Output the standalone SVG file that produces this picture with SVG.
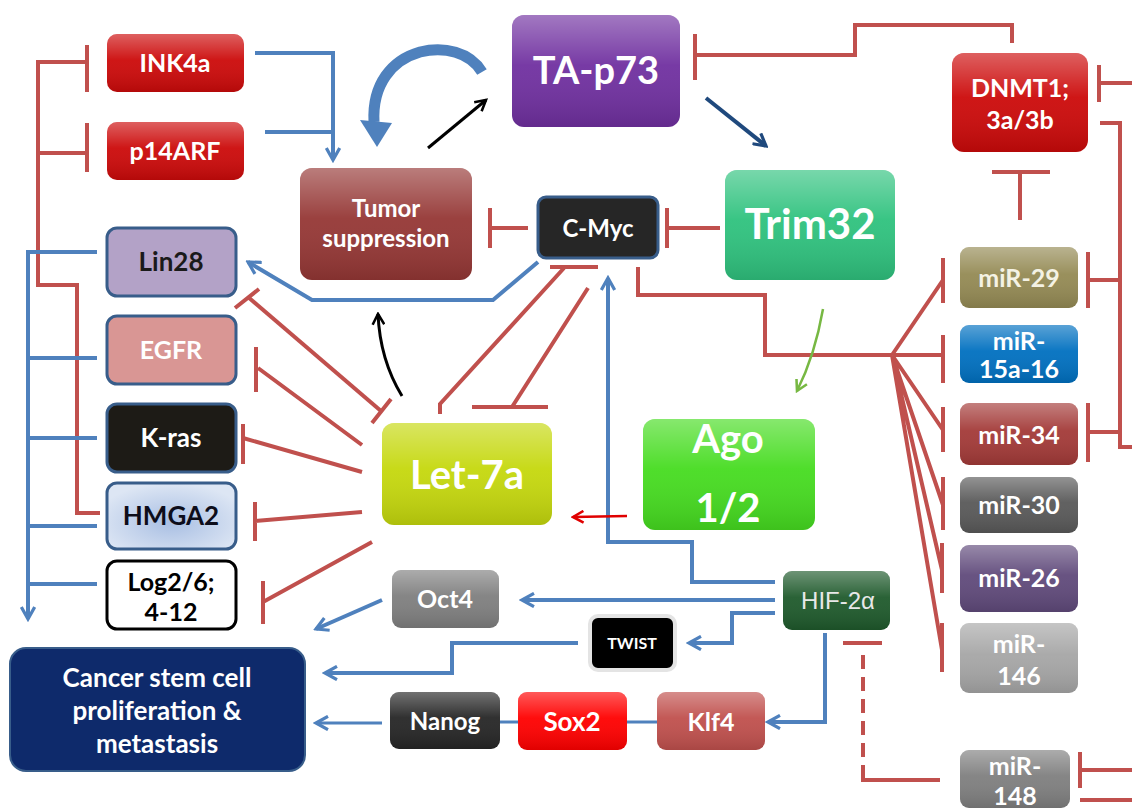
<svg xmlns="http://www.w3.org/2000/svg" width="1132" height="810" viewBox="0 0 1132 810">
<style>
.t{font-family:Lato,"Open Sans","Liberation Sans",sans-serif;font-weight:bold;text-anchor:middle}
.w{fill:#ffffff}
.r{stroke:#c0504d;stroke-width:4;fill:none}
.b{stroke:#4f81bd;stroke-width:4;fill:none}
.gl{fill:url(#gloss)}
</style>
<defs>
<linearGradient id="gloss" x1="0" y1="0" x2="0" y2="1">
<stop offset="0" stop-color="#fff" stop-opacity="0.35"/>
<stop offset="0.45" stop-color="#fff" stop-opacity="0.05"/>
<stop offset="1" stop-color="#000" stop-opacity="0.12"/>
</linearGradient>
<radialGradient id="hmga" cx="0.5" cy="0.6" r="0.6">
<stop offset="0" stop-color="#a9bfe3"/>
<stop offset="1" stop-color="#dde6f4"/>
</radialGradient>
<marker id="ab" viewBox="0 0 12 12" refX="10" refY="6" markerWidth="16" markerHeight="16" markerUnits="userSpaceOnUse" orient="auto"><path d="M1,1 L10,6 L1,11" fill="none" stroke="#4f81bd" stroke-width="2.4"/></marker>
<marker id="ak" viewBox="0 0 12 12" refX="10" refY="6" markerWidth="14" markerHeight="14" markerUnits="userSpaceOnUse" orient="auto"><path d="M1,1 L10,6 L1,11" fill="none" stroke="#000" stroke-width="2.2"/></marker>
<marker id="an" viewBox="0 0 12 12" refX="10" refY="6" markerWidth="16" markerHeight="16" markerUnits="userSpaceOnUse" orient="auto"><path d="M1,1 L10,6 L1,11" fill="none" stroke="#1f497d" stroke-width="2.4"/></marker>
<marker id="ag" viewBox="0 0 12 12" refX="10" refY="6" markerWidth="14" markerHeight="14" markerUnits="userSpaceOnUse" orient="auto"><path d="M1,1 L10,6 L1,11" fill="none" stroke="#77b843" stroke-width="2.2"/></marker>
<marker id="ar" viewBox="0 0 12 12" refX="10" refY="6" markerWidth="14" markerHeight="14" markerUnits="userSpaceOnUse" orient="auto"><path d="M1,1 L10,6 L1,11" fill="none" stroke="#e00000" stroke-width="2.2"/></marker>
</defs>
<rect width="1132" height="810" fill="#ffffff"/>

<g id="connectors">
<path class="r" d="M87,62 L38,62 L38,285 L77,285 L77,513 L100,513"/>
<path class="r" d="M38,153 L87,153"/>
<path class="r" d="M87,45 L87,92 M87,123 L87,172"/>
<path class="b" d="M97,252 L28,252 L28,619" marker-end="url(#ab)"/>
<path class="b" d="M28,358 L97,358 M28,438 L97,438 M28,526 L97,526 M28,584 L97,584"/>
<path class="b" d="M255,53 L333,53 L333,160" marker-end="url(#ab)"/>
<path class="b" d="M265,132 L333,132"/>
<path d="M482,72 C470,52 444,46 420,52 C392,60 372,84 374,122" fill="none" stroke="#4f81bd" stroke-width="11"/>
<polygon points="360,120 392,123 377,147" fill="#4f81bd"/>
<path d="M428,148 L486,100" stroke="#000" stroke-width="3" fill="none" marker-end="url(#ak)"/>
<path d="M402,396 Q380,360 378,314" stroke="#000" stroke-width="3" fill="none" marker-end="url(#ak)"/>
<path d="M706,98 L766,146" stroke="#1f497d" stroke-width="4" fill="none" marker-end="url(#an)"/>
<path class="r" d="M1012,43 L1012,25 L855,25 L855,55 L695,55"/>
<path class="r" d="M695,34 L695,80"/>
<path class="r" d="M1132,83 L1099,83 M1099,65 L1099,102"/>
<path class="r" d="M1100,123 L1120,123 L1120,447 L1132,447"/>
<path class="r" d="M1120,280 L1088,280 M1088,252 L1088,308"/>
<path class="r" d="M1120,432 L1088,432 M1088,403 L1088,462"/>
<path class="r" d="M1020,220 L1020,172 M992,172 L1050,172"/>
<path class="r" d="M528,228 L490,228 M490,208 L490,248"/>
<path class="r" d="M720,228 L667,228 M667,208 L667,248"/>
<path class="b" d="M538,262 L493,300 L312,300 L248,262" marker-end="url(#ab)"/>
<path class="r" d="M248,297 L381,411"/>
<path class="r" d="M235,308 L259,289 M372,423 L391,399"/>
<path class="r" d="M258,368 L362,445 M256,347 L256,392"/>
<path class="r" d="M243,438 L362,472 M243,424 L243,464"/>
<path class="r" d="M255,521 L362,512 M255,502 L255,541"/>
<path class="r" d="M263,602 L372,542 M263,581 L263,624"/>
<path class="r" d="M440,414 L440,404 L564,268 M550,267 L598,267"/>
<path class="r" d="M588,288 L512,407 M472,407 L548,407"/>
<path class="b" d="M775,582 L692,582 L692,542 L608,542 L608,278" marker-end="url(#ab)"/>
<path class="r" d="M638,267 L638,295 L765,295 L765,355 L892,355"/>
<path class="r" d="M892,355 L943,280 M892,355 L943,355 M892,355 L943,430 M892,355 L943,505 M892,355 L942,570 M892,355 L942,650"/>
<path class="r" d="M943,258 L943,303 M943,335 L943,383 M943,407 L943,452 M943,477 L943,530 M942,543 L942,593 M942,623 L942,672"/>
<path d="M823,309 Q815,355 797,391" stroke="#77b843" stroke-width="2.5" fill="none" marker-end="url(#ag)"/>
<path d="M627,516 L573,517" stroke="#e00000" stroke-width="2.5" fill="none" marker-end="url(#ar)"/>
<path class="b" d="M775,600 L522,600" marker-end="url(#ab)"/>
<path class="b" d="M775,613 L732,613 L732,643 L689,643" marker-end="url(#ab)"/>
<path class="b" d="M578,643 L452,643 L452,673 L325,673" marker-end="url(#ab)"/>
<path class="b" d="M382,600 L316,629" marker-end="url(#ab)"/>
<path d="M382,723 L316,723" stroke="#4f81bd" stroke-width="3" fill="none" marker-end="url(#ab)"/>
<path d="M500,722 L518,722 M627,722 L657,722" stroke="#4f81bd" stroke-width="3" fill="none"/>
<path class="b" d="M825,633 L825,722 L768,722" marker-end="url(#ab)"/>
<path class="r" d="M843,643 L882,643"/>
<path class="r" d="M863,655 L863,768" stroke-dasharray="14,8"/>
<path class="r" d="M863,766 L863,780 L940,780"/>
<path class="r" d="M1132,770 L1080,770 M1080,752 L1080,788 M1080,800 L1132,800"/>
</g>

<g id="INK4a"><rect x="107" y="34" width="137" height="58" rx="10" fill="#cc0a0a"/><rect x="107" y="34" width="137" height="58" rx="10" class="gl"/><text class="t w" x="175" y="72" font-size="25">INK4a</text></g>
<g id="p14ARF"><rect x="107" y="122" width="137" height="58" rx="10" fill="#cc0a0a"/><rect x="107" y="122" width="137" height="58" rx="10" class="gl"/><text class="t w" x="175" y="160" font-size="25">p14ARF</text></g>
<g id="Lin28"><rect x="107" y="228" width="129" height="68" rx="10" fill="#b3a2c7" stroke="#385d8a" stroke-width="3"/><text class="t" x="171" y="271" font-size="26" fill="#1a1a1a">Lin28</text></g>
<g id="EGFR"><rect x="107" y="316" width="129" height="68" rx="10" fill="#d99694" stroke="#385d8a" stroke-width="3"/><text class="t w" x="171" y="359" font-size="25">EGFR</text></g>
<g id="K-ras"><rect x="107" y="404" width="129" height="68" rx="10" fill="#1d1b16" stroke="#385d8a" stroke-width="3"/><text class="t w" x="171" y="447" font-size="26">K-ras</text></g>
<g id="HMGA2"><rect x="107" y="483" width="129" height="66" rx="10" fill="url(#hmga)" stroke="#385d8a" stroke-width="3"/><text class="t" x="171" y="525" font-size="26" fill="#0d0d1a">HMGA2</text></g>
<g id="Log"><rect x="107" y="561" width="129" height="68" rx="10" fill="#fff" stroke="#000" stroke-width="3"/><text class="t" x="171" y="591" font-size="25" fill="#000">Log2/6;</text><text class="t" x="171" y="621" font-size="25" fill="#000">4-12</text></g>
<g id="Cancer"><rect x="10" y="648" width="295" height="123" rx="16" fill="#0e2a6b" stroke="#385d8a" stroke-width="2"/><text class="t w" x="157" y="687" font-size="26">Cancer stem cell</text><text class="t w" x="157" y="720" font-size="26">proliferation  &amp;</text><text class="t w" x="157" y="753" font-size="26">metastasis</text></g>
<g id="Tumor"><rect x="300" y="168" width="172" height="112" rx="12" fill="#953735"/><rect x="300" y="168" width="172" height="112" rx="12" class="gl"/><text class="t w" x="386" y="217" font-size="24">Tumor</text><text class="t w" x="386" y="247" font-size="24">suppression</text></g>
<g id="TA-p73"><rect x="512" y="15" width="168" height="112" rx="12" fill="#7030a0"/><rect x="512" y="15" width="168" height="112" rx="12" class="gl"/><text class="t w" x="596" y="84" font-size="38">TA-p73</text></g>
<g id="C-Myc"><rect x="538" y="197" width="120" height="61" rx="8" fill="#262626" stroke="#385d8a" stroke-width="3"/><text class="t w" x="598" y="237" font-size="24">C-Myc</text></g>
<g id="Trim32"><rect x="725" y="170" width="170" height="110" rx="12" fill="#2fc27e"/><rect x="725" y="170" width="170" height="110" rx="12" class="gl"/><text class="t w" x="810" y="239" font-size="42">Trim32</text></g>
<g id="DNMT1"><rect x="952" y="53" width="136" height="99" rx="12" fill="#cc0a0a"/><rect x="952" y="53" width="136" height="99" rx="12" class="gl"/><text class="t w" x="1020" y="97" font-size="25">DNMT1;</text><text class="t w" x="1020" y="129" font-size="25">3a/3b</text></g>
<g id="miR-29"><rect x="960" y="247" width="118" height="61" rx="9" fill="#948a54"/><rect x="960" y="247" width="118" height="61" rx="9" class="gl"/><text class="t" x="1019" y="287" font-size="25" fill="#f4f2e4">miR-29</text></g>
<g id="miR-15a-16"><rect x="960" y="325" width="118" height="58" rx="9" fill="#0070c0"/><rect x="960" y="325" width="118" height="58" rx="9" class="gl"/><text class="t w" x="1019" y="350" font-size="25">miR-</text><text class="t w" x="1019" y="378" font-size="25">15a-16</text></g>
<g id="miR-34"><rect x="960" y="403" width="118" height="62" rx="9" fill="#a33a38"/><rect x="960" y="403" width="118" height="62" rx="9" class="gl"/><text class="t w" x="1019" y="444" font-size="25">miR-34</text></g>
<g id="miR-30"><rect x="960" y="477" width="118" height="56" rx="9" fill="#595959"/><rect x="960" y="477" width="118" height="56" rx="9" class="gl"/><text class="t w" x="1019" y="514" font-size="25">miR-30</text></g>
<g id="miR-26"><rect x="960" y="545" width="118" height="67" rx="9" fill="#604a7b"/><rect x="960" y="545" width="118" height="67" rx="9" class="gl"/><text class="t w" x="1019" y="587" font-size="25">miR-26</text></g>
<g id="miR-146"><rect x="960" y="623" width="118" height="70" rx="9" fill="#a6a6a6"/><rect x="960" y="623" width="118" height="70" rx="9" class="gl"/><text class="t w" x="1019" y="653" font-size="25">miR-</text><text class="t w" x="1019" y="685" font-size="25">146</text></g>
<g id="miR-148"><rect x="960" y="750" width="110" height="58" rx="9" fill="#7f7f7f"/><rect x="960" y="750" width="110" height="58" rx="9" class="gl"/><text class="t w" x="1015" y="775" font-size="25">miR-</text><text class="t w" x="1015" y="805" font-size="25">148</text></g>
<g id="Let-7a"><rect x="382" y="423" width="170" height="102" rx="12" fill="#c5d80d"/><rect x="382" y="423" width="170" height="102" rx="12" class="gl"/><text class="t w" x="467" y="489" font-size="40">Let-7a</text></g>
<g id="Ago"><rect x="643" y="419" width="172" height="111" rx="12" fill="#46dc20"/><rect x="643" y="419" width="172" height="111" rx="12" class="gl"/><text class="t w" x="728" y="453" font-size="40">Ago</text><text class="t w" x="728" y="522" font-size="40">1/2</text></g>
<g id="HIF-2a"><rect x="783" y="571" width="107" height="59" rx="9" fill="#1f5a2c"/><rect x="783" y="571" width="107" height="59" rx="9" class="gl"/><text x="838" y="609" font-size="24" text-anchor="middle" fill="#e8e8e8" font-family="'Liberation Sans',Arial,sans-serif">HIF-2α</text></g>
<g id="Oct4"><rect x="392" y="570" width="107" height="58" rx="9" fill="#7f7f7f"/><rect x="392" y="570" width="107" height="58" rx="9" class="gl"/><text class="t w" x="445" y="608" font-size="25">Oct4</text></g>
<g id="TWIST"><rect x="590" y="616" width="85" height="54" rx="8" fill="#000" stroke="#e4e4e4" stroke-width="4"/><text class="t w" x="632" y="649" font-size="16">TWIST</text></g>
<g id="Nanog"><rect x="390" y="692" width="110" height="57" rx="9" fill="#262626"/><rect x="390" y="692" width="110" height="57" rx="9" class="gl"/><text class="t w" x="445" y="730" font-size="24">Nanog</text></g>
<g id="Sox2"><rect x="518" y="692" width="109" height="58" rx="9" fill="#ff0000"/><rect x="518" y="692" width="109" height="58" rx="9" class="gl"/><text class="t w" x="572" y="731" font-size="26">Sox2</text></g>
<g id="Klf4"><rect x="657" y="692" width="108" height="58" rx="9" fill="#c0504d"/><rect x="657" y="692" width="108" height="58" rx="9" class="gl"/><text class="t w" x="711" y="731" font-size="25">Klf4</text></g>
</svg>
